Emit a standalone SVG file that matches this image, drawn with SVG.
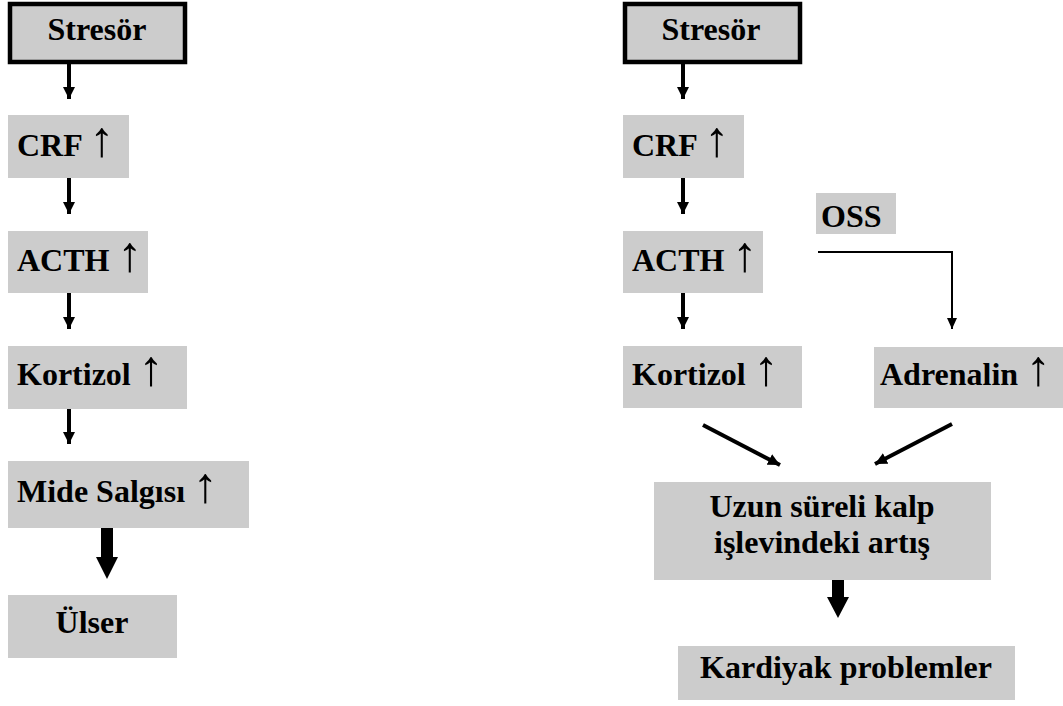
<svg xmlns="http://www.w3.org/2000/svg" width="1063" height="706" viewBox="0 0 1063 706">
<style>
.box{fill:#cccccc;}
.stress{fill:#cccccc;stroke:#000;stroke-width:4.5;}
.t{font-family:"Liberation Serif","Times New Roman",serif;font-weight:bold;font-size:32px;fill:#000;}
.c{text-anchor:middle;}
.ar{font-weight:normal;font-size:50px;}
.ln{stroke:#000;fill:none;}
</style>
<defs>
<marker id="ah" markerUnits="userSpaceOnUse" markerWidth="12" markerHeight="12" refX="12" refY="6" orient="auto">
<path d="M0,0 L12,6 L0,12 Z" fill="#000"/>
</marker>
<marker id="ahs" markerUnits="userSpaceOnUse" markerWidth="11" markerHeight="10" refX="11" refY="5" orient="auto">
<path d="M0,0 L11,5 L0,10 Z" fill="#000"/>
</marker>
</defs>
<rect width="1063" height="706" fill="#fff"/>

<g id="connectors">
<line class="ln" x1="69" y1="64" x2="69" y2="99" stroke-width="4" marker-end="url(#ah)"/>
<line class="ln" x1="69" y1="178" x2="69" y2="214" stroke-width="4" marker-end="url(#ah)"/>
<line class="ln" x1="69" y1="293" x2="69" y2="329" stroke-width="4" marker-end="url(#ah)"/>
<line class="ln" x1="69" y1="409" x2="69" y2="444" stroke-width="4" marker-end="url(#ah)"/>
<polygon points="101,528 113,528 113,557 118,557 107,579 96,557 101,557" fill="#000"/>

<line class="ln" x1="683" y1="64" x2="683" y2="99" stroke-width="4" marker-end="url(#ah)"/>
<line class="ln" x1="683" y1="178" x2="683" y2="214" stroke-width="4" marker-end="url(#ah)"/>
<line class="ln" x1="683" y1="293" x2="683" y2="329" stroke-width="4" marker-end="url(#ah)"/>
<polyline class="ln" points="818,252 952,252 952,329" stroke-width="2" marker-end="url(#ahs)"/>
<line class="ln" x1="703" y1="425" x2="780" y2="465" stroke-width="4" marker-end="url(#ah)"/>
<line class="ln" x1="952" y1="424" x2="875" y2="464" stroke-width="4" marker-end="url(#ah)"/>
<polygon points="832,580 844,580 844,597 849,597 838,618 827,597 832,597" fill="#000"/>
</g>

<g id="stresor-left">
<rect class="stress" x="10" y="4" width="175" height="58"/>
<text class="t c" x="97" y="40">Stresör</text>
</g>
<g id="crf-left">
<rect class="box" x="8" y="115" width="121" height="63"/>
<text class="t" x="17" y="156">CRF <tspan class="ar">↑</tspan></text>
</g>
<g id="acth-left">
<rect class="box" x="8" y="231" width="140" height="62"/>
<text class="t" x="17" y="271">ACTH <tspan class="ar">↑</tspan></text>
</g>
<g id="kortizol-left">
<rect class="box" x="8" y="346" width="179" height="63"/>
<text class="t" x="17" y="385">Kortizol <tspan class="ar">↑</tspan></text>
</g>
<g id="mide">
<rect class="box" x="8" y="461" width="241" height="67"/>
<text class="t" x="17" y="502">Mide Salgısı <tspan class="ar">↑</tspan></text>
</g>
<g id="ulser">
<rect class="box" x="8" y="595" width="169" height="63"/>
<text class="t c" x="92" y="633">Ülser</text>
</g>

<g id="stresor-right">
<rect class="stress" x="625" y="4" width="175" height="58"/>
<text class="t c" x="711" y="40">Stresör</text>
</g>
<g id="crf-right">
<rect class="box" x="623" y="115" width="121" height="63"/>
<text class="t" x="632" y="156">CRF <tspan class="ar">↑</tspan></text>
</g>
<g id="oss">
<rect class="box" x="816" y="193" width="80" height="41"/>
<text class="t" x="821" y="227">OSS</text>
</g>
<g id="acth-right">
<rect class="box" x="623" y="231" width="140" height="62"/>
<text class="t" x="632" y="271">ACTH <tspan class="ar">↑</tspan></text>
</g>
<g id="kortizol-right">
<rect class="box" x="623" y="346" width="179" height="62"/>
<text class="t" x="632" y="385">Kortizol <tspan class="ar">↑</tspan></text>
</g>
<g id="adrenalin">
<rect class="box" x="874" y="347" width="189" height="61"/>
<text class="t" x="880" y="385">Adrenalin <tspan class="ar">↑</tspan></text>
</g>
<g id="uzun">
<rect class="box" x="654" y="482" width="337" height="98"/>
<text class="t c" x="822" y="517">Uzun süreli kalp</text>
<text class="t c" x="822" y="553">işlevindeki artış</text>
</g>
<g id="kardiyak">
<rect class="box" x="678" y="646" width="337" height="54"/>
<text class="t c" x="846" y="678">Kardiyak problemler</text>
</g>
</svg>
